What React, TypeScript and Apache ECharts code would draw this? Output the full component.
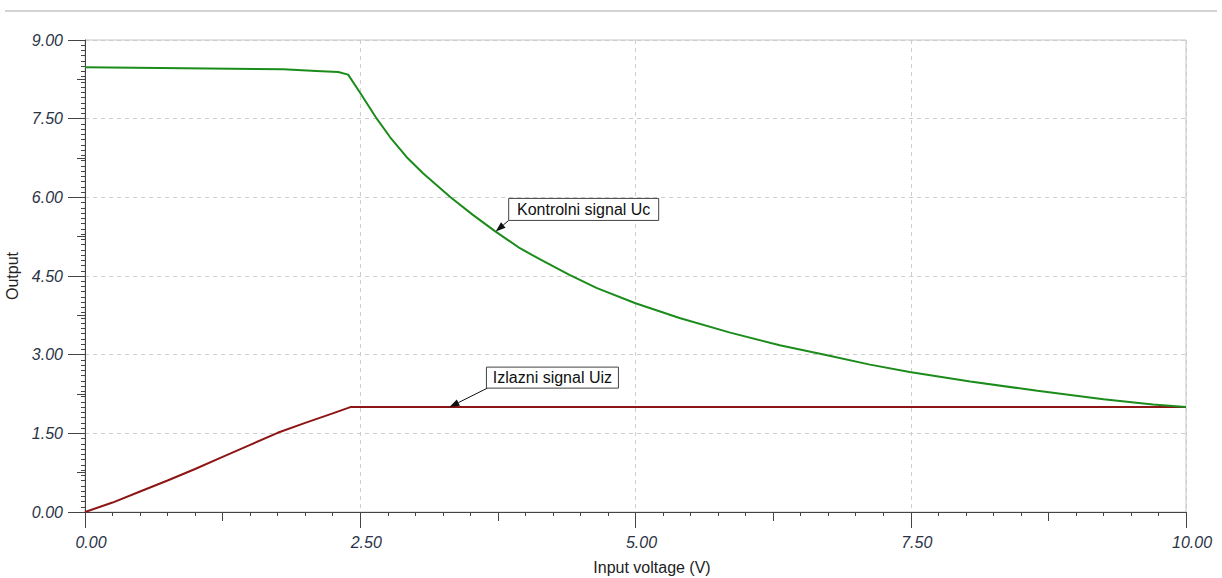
import React, { useEffect, useRef } from "react";
import * as echarts from "echarts";

const xTicks = [0, 2.5, 5, 7.5, 10];
const yTicks = [0, 1.5, 3, 4.5, 6, 7.5, 9];

const ucX = [0, 0.9, 1.8, 2.1, 2.3, 2.39, 2.5, 2.65, 2.77, 2.92, 3.07, 3.32, 3.52, 3.72, 3.95, 4.13, 4.4, 4.65, 5.0, 5.4, 5.86, 6.31, 6.74, 7.13, 7.49, 8.04, 8.65, 9.25, 9.7, 10];
const ucY = [8.48, 8.46, 8.44, 8.41, 8.39, 8.34, 7.99, 7.5, 7.15, 6.77, 6.46, 6.0, 5.67, 5.36, 5.03, 4.82, 4.52, 4.27, 3.98, 3.7, 3.42, 3.18, 2.99, 2.81, 2.67, 2.49, 2.31, 2.15, 2.05, 2.0];

const uizX = [0, 0.25, 0.5, 0.75, 1.0, 1.25, 1.5, 1.75, 2.0, 2.25, 2.41, 10];
const uizY = [0, 0.18, 0.39, 0.6, 0.82, 1.05, 1.28, 1.51, 1.7, 1.88, 2.0, 2.0];

const labels = [
  { text: "Kontrolni signal Uc", at: [3.73, 5.35], box: [13, -33, 150, 22], from: [13, -11] },
  { text: "Izlazni signal Uiz", at: [3.31, 2.0], box: [37, -40, 132, 21], from: [38, -19] },
];

const FONT = "'Liberation Sans', Arial, sans-serif";
const W = 1222, H = 578;
const G = { left: 85, right: 36, top: 40, bottom: 66 };

export default function App() {
  const ref = useRef<HTMLDivElement>(null);
  useEffect(() => {
    if (!ref.current) return;
    const chart = echarts.init(ref.current, null, { renderer: "svg" });
    const axisColor = "#444";
    const plotW = W - G.left - G.right;
    const plotH = H - G.top - G.bottom;
    const split = { show: true, lineStyle: { color: "#cdcdcd", type: [4, 4], width: 1 } };
    chart.setOption({
      animation: false,
      grid: {
        ...G, show: true, borderColor: "#c4c4c4", borderWidth: 1,
        containLabel: false, outerBoundsMode: "none",
      },
      xAxis: [
        {
          type: "value", position: "bottom", min: xTicks[0], max: xTicks[xTicks.length - 1], interval: 2.5,
          name: "Input voltage (V)", nameLocation: "middle", nameGap: 47,
          nameTextStyle: { fontFamily: FONT, fontSize: 16, color: "#222", padding: [0, 0, 0, 33] },
          axisLine: { show: true, onZero: false, lineStyle: { color: axisColor, width: 1 } },
          axisTick: { show: true, inside: false, length: 16, lineStyle: { color: axisColor } },
          minorTick: { show: true, splitNumber: 10, length: 4, lineStyle: { color: axisColor } },
          axisLabel: {
            margin: 22, fontFamily: FONT, fontSize: 16, fontStyle: "italic", color: "#2a3346",
            padding: [0, 0, 0, 12], formatter: (v: number) => v.toFixed(2),
          },
          splitLine: split,
        },
        {
          type: "value", position: "top", offset: -plotH, min: 0, max: 10, interval: 1.25,
          axisLine: { show: false, onZero: false },
          axisTick: { show: true, inside: true, length: 9, lineStyle: { color: axisColor } },
          axisLabel: { show: false },
          splitLine: { show: false },
        },
      ],
      yAxis: [
        {
          type: "value", position: "left", min: yTicks[0], max: yTicks[yTicks.length - 1], interval: 1.5,
          name: "Output", nameLocation: "middle", nameGap: 50, nameRotate: 90,
          nameTextStyle: { fontFamily: FONT, fontSize: 16, color: "#222" },
          axisLine: { show: true, onZero: false, lineStyle: { color: axisColor, width: 1 } },
          axisTick: { show: true, inside: false, length: 17, lineStyle: { color: axisColor } },
          minorTick: { show: true, splitNumber: 15, length: 4, lineStyle: { color: axisColor } },
          axisLabel: {
            margin: 22, fontFamily: FONT, fontSize: 16, fontStyle: "italic", color: "#2a3346",
            formatter: (v: number) => v.toFixed(2),
          },
          splitLine: split,
        },
        {
          type: "value", position: "right", offset: -plotW, min: 0, max: 9, interval: 0.75,
          axisLine: { show: false, onZero: false },
          axisTick: { show: true, inside: true, length: 8, lineStyle: { color: axisColor } },
          axisLabel: { show: false },
          splitLine: { show: false },
        },
      ],
      series: [
        {
          type: "line", name: "Kontrolni signal Uc", xAxisIndex: 0, yAxisIndex: 0,
          data: ucX.map((x, i) => [x, ucY[i]]), showSymbol: false, symbol: "none",
          lineStyle: { color: "#1b8c1b", width: 2 }, z: 3,
        },
        {
          type: "line", name: "Izlazni signal Uiz", xAxisIndex: 0, yAxisIndex: 0,
          data: uizX.map((x, i) => [x, uizY[i]]), showSymbol: false, symbol: "none",
          lineStyle: { color: "#8e1515", width: 2 }, z: 2,
        },
      ],
    });

    const graphics: any[] = [
      { type: "line", shape: { x1: 5, y1: 11, x2: 1217, y2: 11 }, style: { stroke: "#c4c4c4", lineWidth: 1.5 } },
    ];
    labels.forEach((l) => {
      const p = chart.convertToPixel({ xAxisIndex: 0, yAxisIndex: 0 }, l.at) as number[];
      const [tx, ty] = p;
      const [bx, by, bw, bh] = l.box;
      const sx = tx + l.from[0];
      const sy = ty + l.from[1];
      const dx = tx - sx, dy = ty - sy;
      const len = Math.hypot(dx, dy);
      const ux = dx / len, uy = dy / len;
      const ah = 10, aw = 3.5;
      const baseX = tx - ux * ah, baseY = ty - uy * ah;
      graphics.push(
        { type: "line", z: 20, shape: { x1: sx, y1: sy, x2: baseX, y2: baseY }, style: { stroke: "#111", lineWidth: 1 } },
        {
          type: "polygon", z: 20,
          shape: { points: [[tx, ty], [baseX - uy * aw, baseY + ux * aw], [baseX + uy * aw, baseY - ux * aw]] },
          style: { fill: "#111" },
        },
        { type: "rect", z: 20, shape: { x: tx + bx, y: ty + by, width: bw, height: bh }, style: { fill: "#fff", stroke: "#444", lineWidth: 1 } },
        {
          type: "text", z: 21, x: tx + bx + bw / 2, y: ty + by + bh / 2,
          style: { text: l.text, fontFamily: FONT, fontSize: 16, fill: "#111", align: "center", verticalAlign: "middle" },
        }
      );
    });
    chart.setOption({ graphic: graphics });
    return () => chart.dispose();
  }, []);
  return <div ref={ref} style={{ position: "fixed", left: 0, top: 0, width: W, height: H, background: "#fff" }} />;
}
